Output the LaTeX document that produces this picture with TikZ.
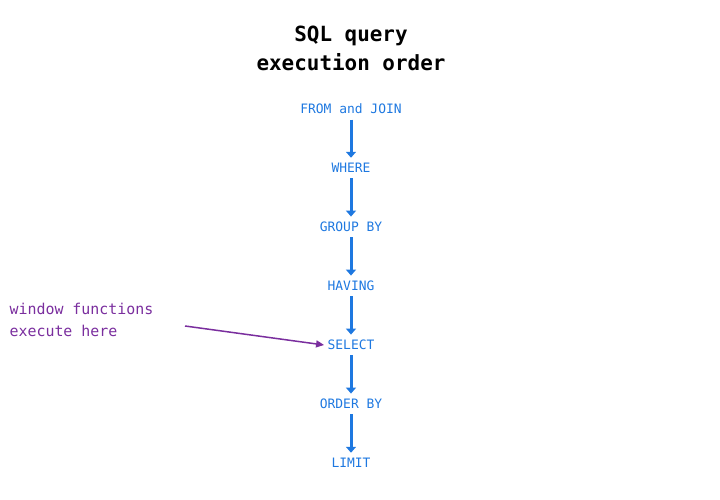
\documentclass[tikz,border=0pt]{standalone}
\usepackage{fontspec}
\setmainfont{DejaVu Sans Mono}
\usepackage{xcolor}
\usetikzlibrary{positioning,arrows.meta}
\definecolor{stepblue}{HTML}{1E78E0}
\definecolor{notepurple}{HTML}{7A2E9E}
\begin{document}
\begin{tikzpicture}[x=1bp,y=1bp,
    clause/.style={text=stepblue,font=\fontsize{13}{15}\selectfont},
    flow/.style={draw=stepblue,line width=3bp,-{Triangle[width=10bp,length=6bp]}}]
    \useasboundingbox (0,0) rectangle (720,500);
    % Title
    \node[font=\fontsize{21}{29}\selectfont\bfseries,align=center] (title) at (351,452) {SQL query\\execution order};
    % Clauses
    \node[clause] (from) at (351,391) {FROM and JOIN};
    \node[clause] (where) at (351,332) {WHERE};
    \node[clause] (group) at (351,273) {GROUP BY};
    \node[clause] (having) at (351,214) {HAVING};
    \node[clause] (select) at (351,155) {SELECT};
    \node[clause] (order) at (351,96) {ORDER BY};
    \node[clause] (limit) at (351,37) {LIMIT};
    \foreach \a/\b in {from/where,where/group,group/having,having/select,select/order,order/limit}
        \draw[flow] ([yshift=-2bp]\a.south) -- ([yshift=2bp]\b.north);
    % Note
    \node[text=notepurple,font=\fontsize{15}{22}\selectfont,align=left,anchor=west] (note) at (6,180) {window functions\\execute here};
    \coordinate (tip) at (185,174);
    \draw[notepurple,line width=1.5bp,-{Triangle[width=7bp,length=8bp]}] (tip) -- (select.west);
\end{tikzpicture}
\end{document}
